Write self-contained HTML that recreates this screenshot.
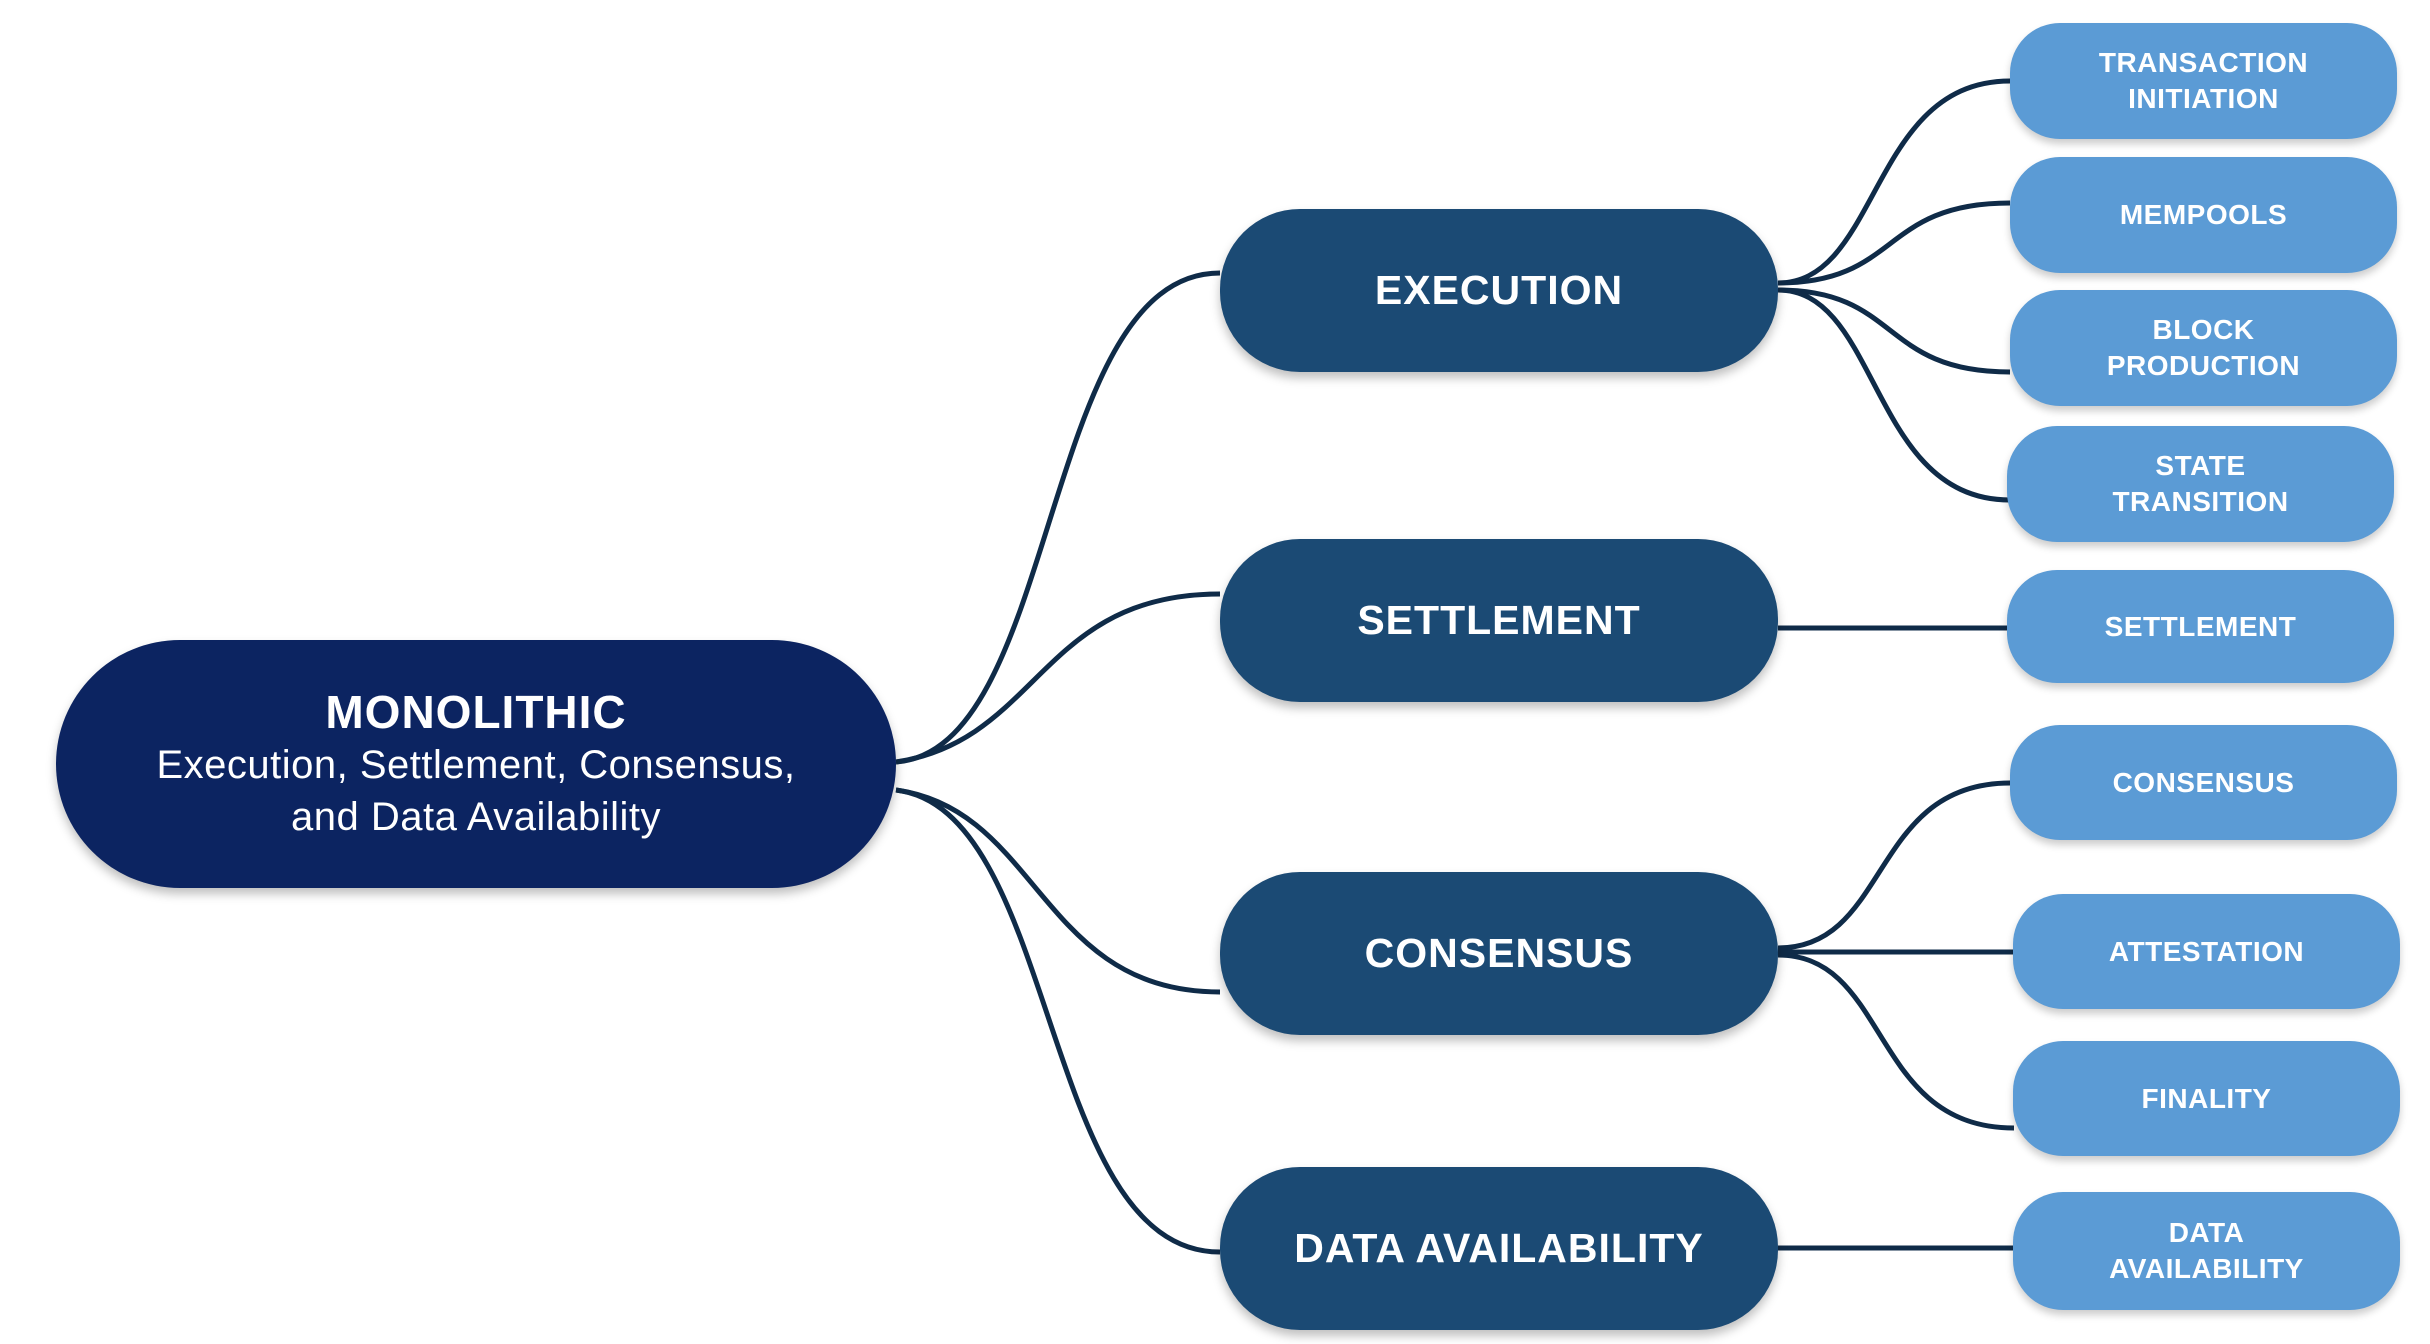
<!DOCTYPE html>
<html><head><meta charset="utf-8"><style>
html,body{margin:0;padding:0;background:#fff;}
body{width:2430px;height:1344px;position:relative;overflow:hidden;font-family:"Liberation Sans",sans-serif;}
.n{position:absolute;display:flex;align-items:center;justify-content:center;text-align:center;color:#fff;font-weight:bold;box-sizing:border-box;}
.m{background:#1b4a74;border-radius:80px;font-size:41px;letter-spacing:1px;box-shadow:0 6px 10px rgba(0,0,0,0.25);}
.r{background:#5b9bd5;border-radius:50px;font-size:28px;line-height:36px;letter-spacing:0.5px;box-shadow:0 5px 8px rgba(0,0,0,0.2);}
svg{position:absolute;left:0;top:0;}
</style></head><body>
<svg width="2430" height="1344" fill="none" stroke="#0f2b48" stroke-width="5">
<path d="M896 762 C1060 750 1040 273 1220 273"/>
<path d="M896 762 C1040 740 1040 594 1220 594"/>
<path d="M896 790 C1040 810 1040 992 1220 992"/>
<path d="M896 790 C1060 810 1040 1252 1220 1252"/>
<path d="M1778 283 C1880 283 1870 81 2010 81"/>
<path d="M1778 283 C1900 283 1880 203 2010 203"/>
<path d="M1778 290 C1900 290 1880 372 2010 372"/>
<path d="M1778 290 C1880 290 1870 500 2010 500"/>
<path d="M1778 628 L2010 628"/>
<path d="M1778 948 C1890 948 1870 783 2010 783"/>
<path d="M1778 952 L2014 952"/>
<path d="M1778 955 C1890 955 1870 1128 2014 1128"/>
<path d="M1778 1248 L2014 1248"/>
</svg>
<div class="n" style="left:56px;top:640px;width:840px;height:248px;background:#0c2461;border-radius:124px;flex-direction:column;box-shadow:0 6px 10px rgba(0,0,0,0.25);">
<div style="font-size:46px;letter-spacing:1px;">MONOLITHIC</div>
<div style="font-size:40px;font-weight:normal;line-height:52px;letter-spacing:0.5px;">Execution, Settlement, Consensus,<br>and Data Availability</div></div>
<div class="n m" style="left:1220px;top:209px;width:558px;height:163px;">EXECUTION</div>
<div class="n m" style="left:1220px;top:539px;width:558px;height:163px;">SETTLEMENT</div>
<div class="n m" style="left:1220px;top:872px;width:558px;height:163px;">CONSENSUS</div>
<div class="n m" style="left:1220px;top:1167px;width:558px;height:163px;">DATA AVAILABILITY</div>
<div class="n r" style="left:2010px;top:23px;width:387px;height:116px;">TRANSACTION<br>INITIATION</div>
<div class="n r" style="left:2010px;top:157px;width:387px;height:116px;">MEMPOOLS</div>
<div class="n r" style="left:2010px;top:290px;width:387px;height:116px;">BLOCK<br>PRODUCTION</div>
<div class="n r" style="left:2007px;top:426px;width:387px;height:116px;">STATE<br>TRANSITION</div>
<div class="n r" style="left:2007px;top:570px;width:387px;height:113px;">SETTLEMENT</div>
<div class="n r" style="left:2010px;top:725px;width:387px;height:115px;">CONSENSUS</div>
<div class="n r" style="left:2013px;top:894px;width:387px;height:115px;">ATTESTATION</div>
<div class="n r" style="left:2013px;top:1041px;width:387px;height:115px;">FINALITY</div>
<div class="n r" style="left:2013px;top:1192px;width:387px;height:118px;">DATA<br>AVAILABILITY</div>
</body></html>
